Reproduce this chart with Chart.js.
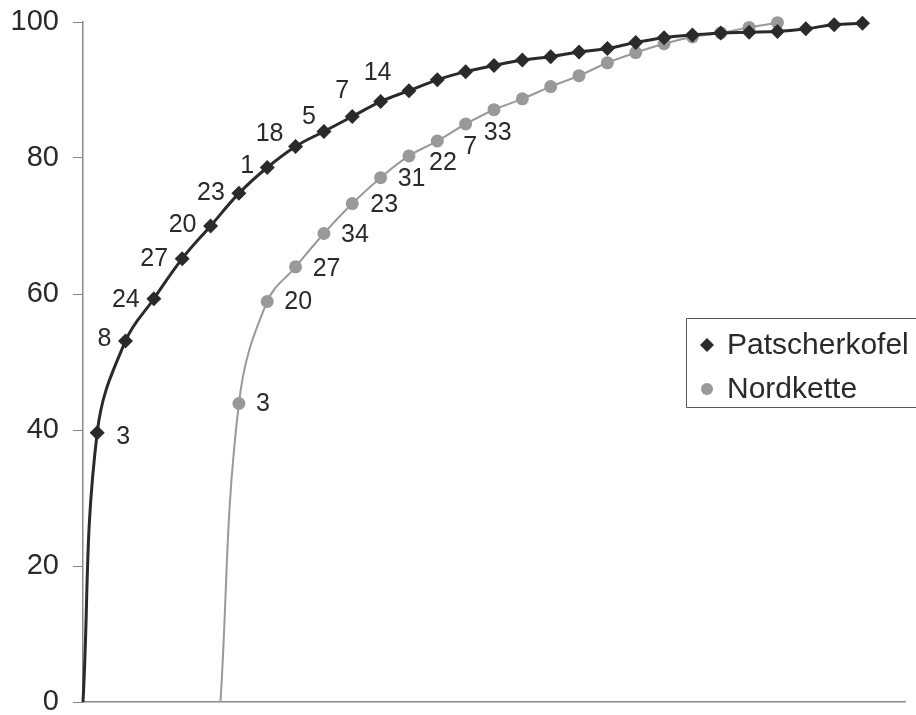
<!DOCTYPE html>
<html><head><meta charset="utf-8">
<script src="https://cdn.jsdelivr.net/npm/chart.js@4/dist/chart.umd.min.js"></script>
<style>html,body{margin:0;padding:0;background:#fff;overflow:hidden;}#wrap{width:916px;height:715px;position:relative;}</style>
</head><body><div id="wrap"><canvas id="c" width="916" height="715"></canvas></div>
<script>
// ---- data ----
const seriesNames = ['Patscherkofel', 'Nordkette'];
const patX = [0, 0.5, 1.5, 2.5, 3.5, 4.5, 5.5, 6.5, 7.5, 8.5, 9.5, 10.5, 11.5, 12.5, 13.5, 14.5, 15.5, 16.5, 17.5, 18.5, 19.5, 20.5, 21.5, 22.5, 23.5, 24.5, 25.5, 26.5, 27.5];
const patValues = [0, 39.6, 53.1, 59.3, 65.2, 70.0, 74.8, 78.6, 81.7, 83.9, 86.1, 88.3, 89.9, 91.5, 92.7, 93.6, 94.4, 94.9, 95.6, 96.1, 97.0, 97.7, 98.1, 98.4, 98.5, 98.6, 99.0, 99.6, 99.8];
const patLabels = ['', '3', '8', '24', '27', '20', '23', '1', '18', '5', '7', '14'];
const nordX = [4.85, 5.5, 6.5, 7.5, 8.5, 9.5, 10.5, 11.5, 12.5, 13.5, 14.5, 15.5, 16.5, 17.5, 18.5, 19.5, 20.5, 21.5, 22.5, 23.5, 24.5];
const nordValues = [0, 43.9, 58.9, 64.0, 68.9, 73.3, 77.1, 80.3, 82.5, 85.0, 87.1, 88.7, 90.5, 92.1, 94.0, 95.5, 96.8, 97.8, 98.4, 99.2, 99.9];
const nordLabels = ['', '3', '20', '27', '34', '23', '31', '22', '7', '33'];
const yTicks = [0, 20, 40, 60, 80, 100];

// ---- styling ----
const FONT = '"Liberation Sans", Arial, sans-serif';
const TEXT = '#2a2a2a';
const patColor = '#2a2a2a';
const nordColor = '#999999';
// label placement relative to its point (px), style only
const labelOffsets = [
  [null, [26, 4], [-21, -2], [-28, 1], [-28, 0], [-28, -1], [-28, 0], [-20, -1], [-26, -12], [-15, -14], [-10, -25], [-3, -28]],
  [null, [24, 1], [31, 1], [31, 2], [31, 2], [32, 2], [31, 1], [34, 7], [33, 6], [32, 9]]
];
const allLabels = [patLabels, nordLabels];

const zip = (xs, ys) => xs.map((x, i) => ({x: x, y: ys[i]}));
const radii = (n, r) => Array.from({length: n}, (_, i) => i === 0 ? 0 : r);

const labelPlugin = {
  id: 'pointLabels',
  afterDatasetsDraw(chart) {
    const ctx = chart.ctx;
    ctx.save();
    ctx.font = '25px ' + FONT;
    ctx.fillStyle = TEXT;
    ctx.textAlign = 'center';
    ctx.textBaseline = 'middle';
    chart.data.datasets.forEach((ds, di) => {
      const meta = chart.getDatasetMeta(di);
      const labels = allLabels[di];
      labels.forEach((t, i) => {
        if (!t) return;
        const el = meta.data[i];
        const off = labelOffsets[di][i];
        ctx.fillText(t, el.x + off[0], el.y + off[1]);
      });
    });
    ctx.restore();
  }
};

const legendPlugin = {
  id: 'boxLegend',
  afterDraw(chart) {
    const ctx = chart.ctx;
    ctx.save();
    ctx.strokeStyle = '#555';
    ctx.lineWidth = 1;
    ctx.beginPath();
    ctx.moveTo(930, 318.5); ctx.lineTo(686.5, 318.5); ctx.lineTo(686.5, 407.5); ctx.lineTo(930, 407.5);
    ctx.stroke();
    ctx.font = '30px ' + FONT;
    ctx.textBaseline = 'middle';
    ctx.textAlign = 'left';
    const rows = [345, 389];
    chart.data.datasets.forEach((ds, di) => {
      const y = rows[di];
      const x = 707;
      ctx.fillStyle = ds.pointBackgroundColor;
      ctx.beginPath();
      if (ds.pointStyle === 'rectRot') {
        const r = 7;
        ctx.moveTo(x, y - r); ctx.lineTo(x + r, y); ctx.lineTo(x, y + r); ctx.lineTo(x - r, y); ctx.closePath();
      } else {
        ctx.arc(x, y, 6, 0, Math.PI * 2);
      }
      ctx.fill();
      ctx.fillStyle = TEXT;
      ctx.fillText(ds.label, 727, y + 1);
    });
    ctx.restore();
  }
};

new Chart(document.getElementById('c'), {
  type: 'line',
  data: {
    datasets: [
      {
        label: seriesNames[0],
        data: zip(patX, patValues),
        borderColor: patColor,
        borderWidth: 3,
        pointStyle: 'rectRot',
        pointRadius: radii(patX.length, 7.5),
        pointBackgroundColor: patColor,
        pointBorderColor: patColor,
        pointBorderWidth: 0,
        tension: 0.4,
        clip: false,
        fill: false
      },
      {
        label: seriesNames[1],
        data: zip(nordX, nordValues),
        borderColor: nordColor,
        borderWidth: 2,
        pointStyle: 'circle',
        pointRadius: radii(nordX.length, 6.5),
        pointBackgroundColor: nordColor,
        pointBorderColor: nordColor,
        pointBorderWidth: 0,
        tension: 0.4,
        clip: false,
        fill: false
      }
    ]
  },
  options: {
    responsive: false,
    devicePixelRatio: 1,
    animation: false,
    layout: {padding: {top: 22, right: 11, bottom: 13, left: 0}},
    plugins: {legend: {display: false}, tooltip: {enabled: false}},
    scales: {
      x: {
        type: 'linear', min: 0, max: 29,
        ticks: {display: false},
        grid: {display: false, drawTicks: false},
        border: {display: true, color: '#8a8a8a', width: 1.5},
        afterFit: s => { s.height = 0; s.paddingLeft = 0; s.paddingRight = 0; }
      },
      y: {
        type: 'linear', min: 0, max: 100,
        afterBuildTicks: s => { s.ticks = yTicks.map(v => ({value: v})); },
        afterFit: s => { s.width = 83; s.paddingTop = 0; s.paddingBottom = 0; },
        ticks: {font: {family: FONT, size: 29}, color: TEXT, padding: 14},
        grid: {display: true, drawOnChartArea: false, drawTicks: true, tickLength: 10, color: '#8a8a8a'},
        border: {display: true, color: '#8a8a8a', width: 1.5}
      }
    }
  },
  plugins: [labelPlugin, legendPlugin]
});
</script>
</body></html>
